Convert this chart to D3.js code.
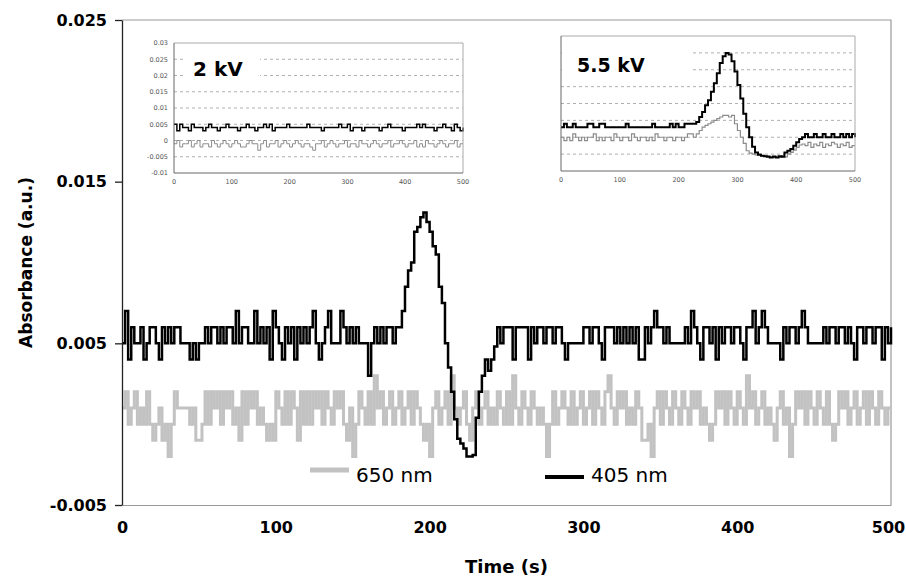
<!DOCTYPE html>
<html>
<head>
<meta charset="utf-8">
<script src="https://cdn.jsdelivr.net/npm/d3@7"></script>
<style>
  body { margin: 0; background: #fff; }
</style>
</head>
<body>
<div id="chart"></div>
<script>
// all absorbance values in 0.001 a.u.
const mainStep = 2   // seconds between samples, main chart
const abs405 = [
  5,7,4,6,5,5,6,4,5,6, 6,5,4,6,5,6,5,6,6,5, 5,5,4,5,4,5,5,6,5,6, 6,5,6,5,6,6,5,7,5,6,
  6,5,5,7,5,6,5,6,4,7, 6,5,4,6,5,6,4,6,5,6, 5,6,7,5,4,5,6,7,5,5, 5,7,6,5,6,5,6,5,5,5,
  3,5,6,5,6,5,6,6,5,6, 6,7,8.5,9.5,10,11.9,12.2,12.8,13.1,12.5, 11.9,11,10.5,8.5,7.5,5,3.5,2,0.3,-0.9,
  -1.2,-1.5,-2,-2,-1.9,0.4,2,3,4,3.3, 4,4.8,6,5,6,6,6,4,6,6, 6,6,4,6,5,6,6,5,6,6,
  5,6,6,5,4,5,5,5,5,5, 6,6,5,6,6,5,4,6,6,6, 5,6,5,6,5,6,5,6,4,4, 6,5,6,7,6,6,5,6,5,5,
  5,5,5,6,5,7,6,5,4,6, 6,5,6,4,6,5,6,6,5,6, 6,5,4,6,6,7,5,6,7,6, 5,5,5,5,4,6,5,6,6,5,
  6,7,6,5,5,5,5,5,6,5, 6,6,5,6,6,5,6,5,4,6, 6,5,6,6,5,6,6,4,6,5, 6
]
const abs650 = [
  1,2,0,1,2,0,1,0,2,0, -1,0,1,-1,0,-2,0,2,1,1, 1,1,0,1,-1,-1,0,2,0,2, 1,2,0,2,1,2,0,1,-1,2,
  0,2,1,2,0,1,0,-1,0,-1, 2,1,0,2,0,2,1,-1,2,0, 2,0,2,1,2,0,2,1,0,2, 1,2,0,-1,1,-2,0,2,1,0,
  2,0,3,1,2,0,1,2,0,1, 2,0,1,2,0,2,1,0,-1,0, -2,1,2,0,1,2,0,3,1,0, 1,2,0,-1,1,2,0,1,2,0,
  1,0,2,1,0,2,0,3,1,0, 2,1,0,2,1,0,1,0,-2,0, 2,0,1,2,1,0,2,0,1,2, 0,1,2,0,2,1,0,2,3,1,
  0,2,1,2,0,1,0,2,1,-1, -1,0,-2,1,2,0,2,1,0,2, 1,0,2,1,0,2,1,2,0,1, 0,-1,0,2,1,2,0,2,1,0,
  2,1,0,3,1,2,0,1,2,0, 1,0,-1,1,2,0,1,-2,0,2, 1,2,0,2,1,0,2,1,0,2, 0,-1,0,2,1,2,0,1,2,0,
  1,2,0,2,1,0,2,1,0,1, 1
]

const insetStep = 5
const kv2_405 = [
  5,3,5,4,4,3,5,4,4,4, 3,4,5,4,4,3,4,4,5,4, 4,4,3,4,4,5,4,4,3,4, 4,5,4,5,3,4,4,4,4,5,
  4,4,4,4,4,4,5,4,4,4, 4,3,4,4,4,4,4,5,4,4, 5,3,4,4,4,3,4,4,4,4, 4,3,4,4,5,4,4,4,4,3,
  4,4,4,4,5,4,5,4,4,4, 3,4,4,5,4,4,3,5,4,3, 4
]
const kv2_650 = [
  -1,0,-2,-1,-1,0,-2,-1,0,-2, -1,-1,-2,0,-1,-2,-1,0,-1,-2, -1,0,-1,-2,-2,-1,0,-1,-1,-3,
  -1,0,-2,-1,-1,0,-2,-1,0,-1, -2,-1,0,-1,-2,-1,-1,-2,-3,-1, -1,0,-2,-1,0,-1,-2,-1,-1,0,
  -2,-1,-1,-2,0,-1,-1,-2,-1,0, -1,-2,-1,-1,0,-2,-1,-1,0,-1, -2,-1,-1,0,-2,-1,-2,0,-1,-1,
  -2,-1,0,-1,-2,-1,-1,0,-2,-1, -1
]
const kv55_405 = [
  3,4,3,3,4,3,3,3,3,4, 4,3,3,4,4,3,3,3,3,3, 3,3,4,3,3,3,3,3,3,3, 3,4,3,3,3,3,3,4,3,4,
  3,3,4,4,4,4,4.5,6,7.5,9.5, 11,13.5,16,19,22,24,25,24.5,22.5,19.5,
  15.5,11.5,7,3,0,-2.8,-4.5,-5.2,-5.5,-5.6, -5.8,-6,-5.8,-6,-5.6,-5.8,-4.5,-4,-3.5,-2.5,
  -1.5,-0.5,0,1,0,0,1,0,0,1, 0,0,1,0,0,1,0,1,0,1, 0
]
const kv55_650 = [
  0,-1,0,-1,1,0,-1,0,-1,0, 0,1,-1,0,-1,0,0,-1,1,0, -1,0,0,-1,1,0,-1,0,0,-1, 0,-1,1,0,0,-1,0,0,-1,0,
  0,-1,0,1,1,0,1,2,3,3.5, 4,4.5,5,5.5,6,6.5,6.5,6,6.5,4,
  2,0,-1.8,-4,-4.7,-5,-5.2,-5,-5.5,-5.5, -5.5,-6,-5.5,-6,-6,-5.5,-5.8,-5,-4.5,-3.8,
  -3,-2.3,-2,-2.5,-1.5,-3,-2,-2.5,-1.5,-3, -2,-2.5,-1.5,-2,-3,-2,-2.5,-1.5,-3,-2.5, -2.5
]

const mainYTicks = [-0.005, 0.005, 0.015, 0.025]
const timeTicks = [0, 100, 200, 300, 400, 500]
const insetYTicks = [-0.01, -0.005, 0, 0.005, 0.01, 0.015, 0.02, 0.025, 0.03]
const insetYTickLabels = ["-0.01", "-0.005", "0", "0.005", "0.01", "0.015", "0.02", "0.025", "0.03"]
const insetGrid = [-0.005, 0, 0.005, 0.01, 0.015, 0.02, 0.025]
const legendNames = ["650 nm", "405 nm"]

const font = "'DejaVu Sans', 'Liberation Sans', sans-serif"
const grayCol = "#c2c2c2"

function toPoints(values, step) {
  return values.map((v, i) => ({ t: i * step, a: v / 1000 }))
}

const svg = d3.select("#chart").append("svg")
  .attr("width", 906)
  .attr("height", 580)
  .style("font-family", font)

// main scales
const x = d3.scaleLinear().domain([0, 500]).range([122, 891])
const y = d3.scaleLinear().domain([-0.005, 0.025]).range([505, 20])

// top and right frame
svg.append("path")
  .attr("d", `M${x.range()[0]},${y.range()[1]}H${x.range()[1]}V${y.range()[0]}`)
  .attr("fill", "none")
  .attr("stroke", "#9a9a9a")
  .attr("stroke-width", 1.2)

const mainLine = d3.line()
  .x(d => x(d.t))
  .y(d => y(d.a))
  .curve(d3.curveStepAfter)

svg.append("path")
  .datum(toPoints(abs650, mainStep))
  .attr("d", mainLine)
  .attr("fill", "none")
  .attr("stroke", grayCol)
  .attr("stroke-width", 3)

svg.append("path")
  .datum(toPoints(abs405, mainStep))
  .attr("d", mainLine)
  .attr("fill", "none")
  .attr("stroke", "#000")
  .attr("stroke-width", 2.5)

// axes
const xAxis = svg.append("g")
  .attr("transform", `translate(0,${y.range()[0]})`)
  .call(d3.axisBottom(x).tickValues(timeTicks).tickSize(0).tickPadding(17))
xAxis.select(".domain").attr("stroke", "#9a9a9a").attr("stroke-width", 1.2)

const yAxis = svg.append("g")
  .attr("transform", `translate(${x.range()[0]},0)`)
  .call(d3.axisLeft(y).tickValues(mainYTicks).tickFormat(d => d.toFixed(3)).tickSize(7).tickSizeOuter(0).tickPadding(8))
yAxis.select(".domain").attr("stroke", "#222").attr("stroke-width", 1.3)
yAxis.selectAll(".tick line").attr("stroke", "#222").attr("stroke-width", 1.3)

svg.selectAll(".tick text")
  .attr("font-family", font)
  .attr("font-size", 16)
  .attr("font-weight", "bold")
  .attr("fill", "#000")

// keep the last time label inside the window
xAxis.selectAll(".tick text").filter(d => d === 500).attr("dx", -3)

svg.append("text")
  .attr("transform", "rotate(-90)")
  .attr("x", -(y.range()[0] + y.range()[1]) / 2)
  .attr("y", 32)
  .attr("text-anchor", "middle")
  .attr("font-size", 17)
  .attr("font-weight", "bold")
  .text("Absorbance (a.u.)")

svg.append("text")
  .attr("x", (x.range()[0] + x.range()[1]) / 2)
  .attr("y", 573)
  .attr("text-anchor", "middle")
  .attr("font-size", 18)
  .attr("font-weight", "bold")
  .text("Time (s)")

// legend
const legend = [
  { name: legendNames[0], color: grayCol, width: 5, lx: 310, ly: 470 },
  { name: legendNames[1], color: "#000", width: 4, lx: 545, ly: 477 }
]
legend.forEach(item => {
  svg.append("line")
    .attr("x1", item.lx).attr("x2", item.lx + 39)
    .attr("y1", item.ly).attr("y2", item.ly)
    .attr("stroke", item.color)
    .attr("stroke-width", item.width)
  svg.append("text")
    .attr("x", item.lx + 46)
    .attr("y", 482)
    .attr("font-size", 20)
    .text(item.name)
})

// insets
const insets = [
  { left: 174, right: 463, top: 43, bottom: 173, black: kv2_405, gray: kv2_650, label: "2 kV",
    box: [183, 47, 260, 85], tx: 193, ty: 76, fs: 20, yLabels: true, blackW: 1.5, grayW: 1 },
  { left: 561, right: 855, top: 36, bottom: 171, black: kv55_405, gray: kv55_650, label: "5.5 kV",
    box: [562, 37, 693, 79], tx: 577, ty: 72, fs: 19, yLabels: false, blackW: 2, grayW: 1.2 }
]

insets.forEach(cfg => {
  const g = svg.append("g")
  const ix = d3.scaleLinear().domain([0, 500]).range([cfg.left, cfg.right])
  const iy = d3.scaleLinear().domain([-0.01, 0.03]).range([cfg.bottom, cfg.top])

  g.append("rect")
    .attr("x", cfg.left).attr("y", cfg.top)
    .attr("width", cfg.right - cfg.left).attr("height", cfg.bottom - cfg.top)
    .attr("fill", "#fff")

  g.selectAll(".grid")
    .data(insetGrid)
    .enter()
    .append("line")
    .attr("x1", cfg.left).attr("x2", cfg.right)
    .attr("y1", d => iy(d)).attr("y2", d => iy(d))
    .attr("stroke", "#9c9c9c")
    .attr("stroke-width", 0.8)
    .attr("stroke-dasharray", "3,3")

  g.append("rect")
    .attr("x", cfg.box[0]).attr("y", cfg.box[1])
    .attr("width", cfg.box[2] - cfg.box[0]).attr("height", cfg.box[3] - cfg.box[1])
    .attr("fill", "#fff")

  g.append("text")
    .attr("x", cfg.tx).attr("y", cfg.ty)
    .attr("font-size", cfg.fs)
    .attr("font-weight", "bold")
    .text(cfg.label)

  const insetLine = d3.line()
    .x(d => ix(d.t))
    .y(d => iy(d.a))
    .curve(d3.curveStepAfter)

  g.append("path")
    .datum(toPoints(cfg.gray, insetStep))
    .attr("d", insetLine)
    .attr("fill", "none")
    .attr("stroke", "#8c8c8c")
    .attr("stroke-width", cfg.grayW)

  g.append("path")
    .datum(toPoints(cfg.black, insetStep))
    .attr("d", insetLine)
    .attr("fill", "none")
    .attr("stroke", "#000")
    .attr("stroke-width", cfg.blackW)

  // frame: light top/right, darker left/bottom
  g.append("path")
    .attr("d", `M${cfg.left},${cfg.top}H${cfg.right}V${cfg.bottom}`)
    .attr("fill", "none")
    .attr("stroke", "#aaa")
  g.append("path")
    .attr("d", `M${cfg.left},${cfg.top}V${cfg.bottom}H${cfg.right}`)
    .attr("fill", "none")
    .attr("stroke", "#666")

  g.selectAll(".xl")
    .data(timeTicks)
    .enter()
    .append("text")
    .attr("x", d => ix(d))
    .attr("y", cfg.bottom + 11)
    .attr("text-anchor", "middle")
    .attr("font-size", 6.5)
    .attr("fill", "#555")
    .text(d => d)

  if (cfg.yLabels) {
    g.selectAll(".yl")
      .data(insetYTicks)
      .enter()
      .append("text")
      .attr("x", cfg.left - 6)
      .attr("y", d => iy(d) + 2.3)
      .attr("text-anchor", "end")
      .attr("font-size", 6.5)
      .attr("fill", "#555")
      .text((d, i) => insetYTickLabels[i])
  }
})
</script>
</body>
</html>
